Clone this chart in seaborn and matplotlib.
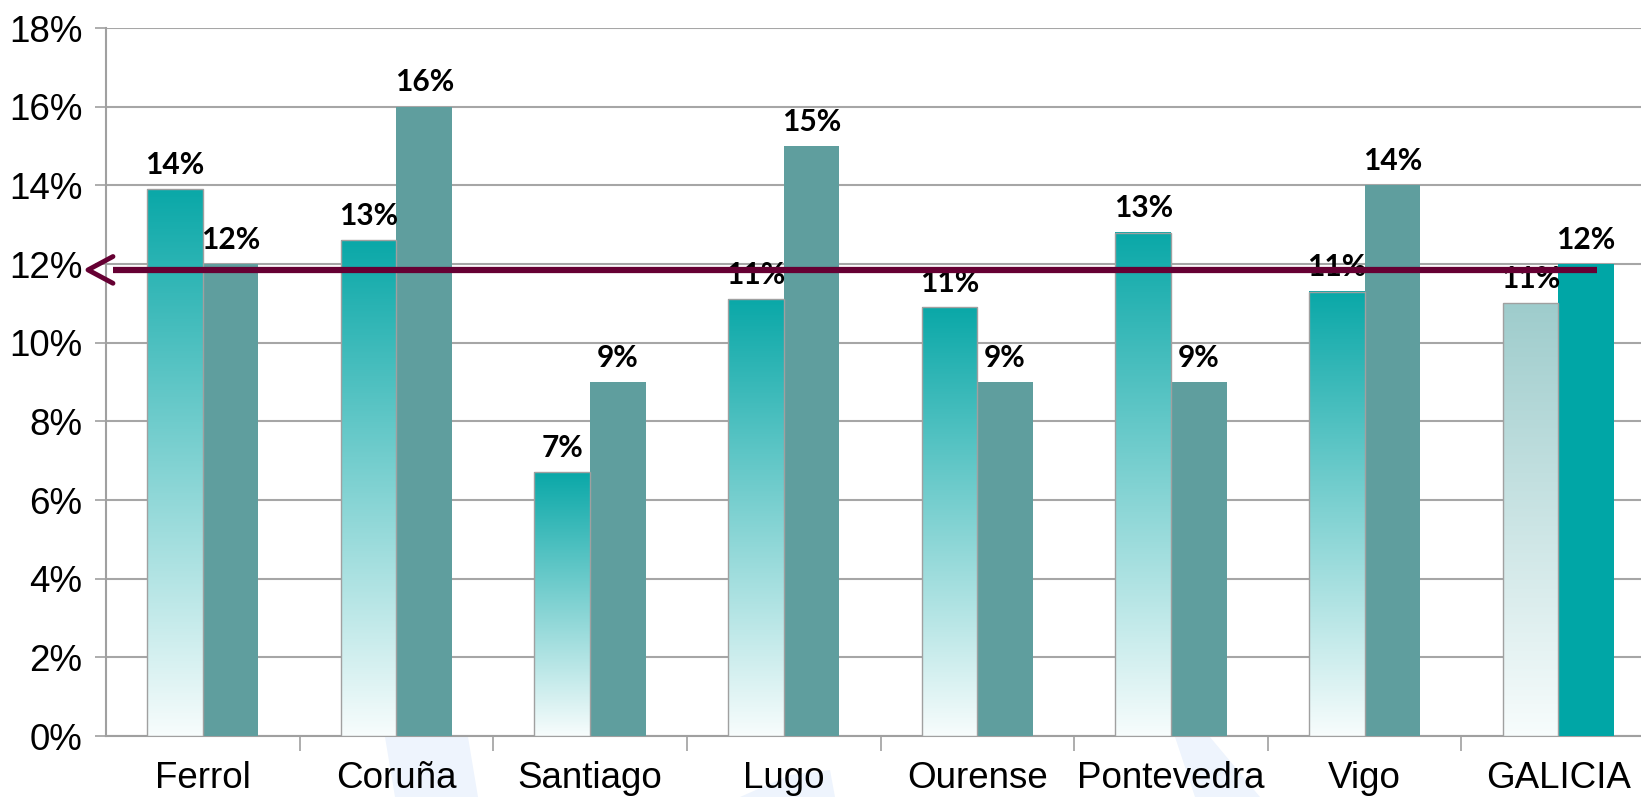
import numpy as np
import pandas as pd
import matplotlib
matplotlib.use("Agg")
import matplotlib.pyplot as plt
import seaborn as sns
from matplotlib.patches import Polygon

# data
ciudades = ["Ferrol", "Coruña", "Santiago", "Lugo", "Ourense", "Pontevedra", "Vigo", "GALICIA"]
serie_a = [13.9, 12.6, 6.7, 11.1, 10.9, 12.8, 11.3, 11.0]
serie_b = [12.0, 16.0, 9.0, 15.0, 9.0, 9.0, 14.0, 12.0]
etiquetas_a = ["14%", "13%", "7%", "11%", "11%", "13%", "11%", "11%"]
etiquetas_b = ["12%", "16%", "9%", "15%", "9%", "9%", "14%", "12%"]
media_galicia = 11.85
yticks = list(range(0, 20, 2))

df = pd.DataFrame({
    "ciudad": ciudades * 2,
    "valor": serie_a + serie_b,
    "serie": ["A"] * len(ciudades) + ["B"] * len(ciudades),
})

sns.set_style("white")
plt.rcParams["font.family"] = ["Liberation Sans", "DejaVu Sans"]
plt.rcParams["text.color"] = "black"
plt.rcParams["xtick.labelcolor"] = "black"
plt.rcParams["ytick.labelcolor"] = "black"

fig = plt.figure(figsize=(16.41, 7.97), dpi=100)
ax = fig.add_axes([106 / 1641, 61 / 797, 1549 / 1641, 708 / 797])
ax.patch.set_alpha(0)

# faint watermark shapes in the background
wm = "#EEF4FD"
for pts in [
    [(385, 737), (468, 737), (478, 797), (395, 797)],
    [(740, 797), (790, 775), (830, 770), (835, 797)],
    [(1175, 737), (1210, 737), (1260, 797), (1195, 797)],
]:
    fig.patches.append(Polygon([(x / 1641, 1 - y / 797) for x, y in pts],
                               closed=True, transform=fig.transFigure,
                               facecolor=wm, edgecolor="none", zorder=-5))

sns.barplot(data=df, x="ciudad", y="valor", hue="serie",
            palette={"A": "#0AA8A8", "B": "#5F9E9E"},
            width=0.574, saturation=1, legend=False, ax=ax, zorder=3)

cont_a, cont_b = ax.containers[0], ax.containers[1]

# gradient fill for the first series (top colour fading to white)
def degradado(top_rgb):
    t = np.linspace(0, 1, 256)[:, None]  # 0 = top
    top = np.array(matplotlib.colors.to_rgb(top_rgb))
    bot = np.array([0.97, 0.99, 0.99])
    img = top[None, :] * (1 - t) + bot[None, :] * t
    return img[:, None, :]

for i, p in enumerate(cont_a.patches):
    x, w, h = p.get_x(), p.get_width(), p.get_height()
    top_col = "#9ECCCC" if ciudades[i] == "GALICIA" else "#0AA8A8"
    ax.imshow(degradado(top_col), extent=[x, x + w, 0, h],
              aspect="auto", zorder=3, interpolation="bilinear")
    p.set_facecolor("none")
    p.set_edgecolor("#A0A0A0")
    p.set_linewidth(1.0)
    p.set_zorder(4)

cont_b.patches[-1].set_facecolor("#00A6A6")
for p in cont_b.patches:
    p.set_edgecolor("none")

ax.set_xlim(-0.5, len(ciudades) - 0.5)
ax.set_ylim(0, 18)

# value labels
for cont, labs in [(cont_a, etiquetas_a), (cont_b, etiquetas_b)]:
    for p, lab in zip(cont.patches, labs):
        ax.annotate(lab, (p.get_x() + p.get_width() / 2, p.get_height()),
                    xytext=(0, 11), textcoords="offset points",
                    ha="center", va="baseline", fontsize=21.5,
                    fontweight="bold", family=["Lato", "DejaVu Sans"],
                    color="black", zorder=5)

# average line with open arrow head at the left
col_linea = "#660033"
ax.plot([-0.464, 7.2], [media_galicia, media_galicia], color=col_linea,
        lw=4.5, solid_capstyle="butt", zorder=6, clip_on=False)
ax.plot([-0.464, -0.593, -0.464],
        [media_galicia + 0.34, media_galicia, media_galicia - 0.34],
        color=col_linea, lw=3.5, zorder=6, clip_on=False)

# axes styling
ax.set_yticks(yticks)
ax.set_yticklabels([f"{v}%" for v in yticks])
ax.yaxis.grid(True, color="#A6A6A6", lw=1.5, zorder=0)
ax.set_axisbelow(True)
ax.tick_params(axis="y", which="major", left=True, length=8, width=1.2,
               color="#A0A0A0", pad=9, labelsize=26.5)

ax.set_xticks(range(len(ciudades)))
ax.set_xticklabels(ciudades, fontsize=26.5)
ax.tick_params(axis="x", which="major", bottom=False, length=0, pad=18)
ax.set_xticks(np.arange(len(ciudades)) + 0.5, minor=True)
ax.tick_params(axis="x", which="minor", bottom=True, length=11, width=1.2,
               color="#A0A0A0", direction="out")

for s in ["top", "right"]:
    ax.spines[s].set_visible(False)
ax.spines["left"].set_color("#A0A0A0")
ax.spines["left"].set_linewidth(1.5)
ax.spines["bottom"].set_color("#A0A0A0")
ax.spines["bottom"].set_linewidth(1.5)
ax.set_xlabel("")
ax.set_ylabel("")

fig.savefig("out.png", dpi=100)
